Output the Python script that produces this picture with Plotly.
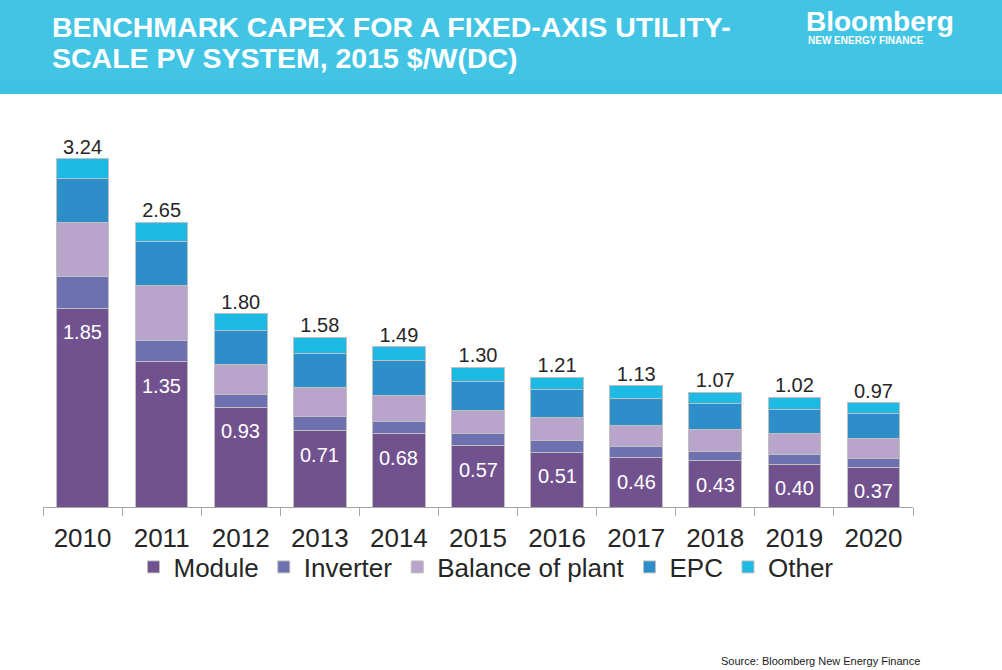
import plotly.graph_objects as go

years = ["2010", "2011", "2012", "2013", "2014", "2015", "2016", "2017", "2018", "2019", "2020"]
module = [1.85, 1.35, 0.93, 0.71, 0.68, 0.57, 0.51, 0.46, 0.43, 0.40, 0.37]
inverter = [0.30, 0.20, 0.12, 0.13, 0.12, 0.11, 0.11, 0.10, 0.09, 0.09, 0.08]
balance_of_plant = [0.50, 0.51, 0.28, 0.27, 0.24, 0.22, 0.21, 0.20, 0.20, 0.19, 0.19]
epc = [0.41, 0.41, 0.31, 0.32, 0.32, 0.27, 0.26, 0.25, 0.24, 0.23, 0.23]
other = [0.18, 0.18, 0.16, 0.15, 0.13, 0.13, 0.12, 0.12, 0.11, 0.11, 0.10]
totals = [3.24, 2.65, 1.80, 1.58, 1.49, 1.30, 1.21, 1.13, 1.07, 1.02, 0.97]

series = [
    ("Module", module, "#71528f"),
    ("Inverter", inverter, "#6d71b0"),
    ("Balance of plant", balance_of_plant, "#b9a5cc"),
    ("EPC", epc, "#2e8ec9"),
    ("Other", other, "#1dbbe4"),
]

W, H = 1002, 670
ML, MR, MT, MB = 43, 89, 131, 163
PW, PH = W - ML - MR, H - MT - MB


def px2x(px):
    return (px - ML) / PW


def py2y(py):
    return (H - MB - py) / PH


FONT = "Liberation Sans, Arial, sans-serif"
fig = go.Figure()

for name, vals, color in series:
    fig.add_trace(go.Bar(
        x=years, y=vals, name=name,
        marker=dict(color=color, line=dict(color="#bfbfbf", width=1)),
        hoverinfo="skip",
    ))

fig.add_trace(go.Scatter(
    x=years, y=totals, mode="text",
    text=[f"{v:.2f}" for v in totals],
    textposition="top center",
    textfont=dict(color="#262626", size=20, family=FONT),
    showlegend=False, hoverinfo="skip",
))

shapes = [
    dict(type="rect", xref="paper", yref="paper",
         x0=px2x(0), x1=px2x(W), y0=py2y(80), y1=py2y(0),
         fillcolor="#42c5e5", line=dict(width=0), layer="below"),
    dict(type="rect", xref="paper", yref="paper",
         x0=px2x(0), x1=px2x(W), y0=py2y(94), y1=py2y(80),
         fillcolor="#3bc1e2", line=dict(width=0), layer="below"),
]

annotations = [
    dict(text="<b>BENCHMARK CAPEX FOR A FIXED-AXIS UTILITY-</b>", xref="paper", yref="paper",
         x=px2x(50), y=py2y(27), xanchor="left", yanchor="middle", showarrow=False,
         font=dict(color="white", size=28.5, family=FONT)),
    dict(text="<b>SCALE PV SYSTEM, 2015 $/W(DC)</b>", xref="paper", yref="paper",
         x=px2x(50), y=py2y(58), xanchor="left", yanchor="middle", showarrow=False,
         font=dict(color="white", size=28.5, family=FONT)),
    dict(text="<b>Bloomberg</b>", xref="paper", yref="paper",
         x=px2x(804), y=py2y(22), xanchor="left", yanchor="middle", showarrow=False,
         font=dict(color="white", size=28, family=FONT)),
    dict(text="<b>NEW ENERGY FINANCE</b>", xref="paper", yref="paper",
         x=px2x(806), y=py2y(40.5), xanchor="left", yanchor="middle", showarrow=False,
         font=dict(color="white", size=10, family=FONT)),
    dict(text="Source: Bloomberg New Energy Finance", xref="paper", yref="paper",
         x=px2x(922), y=py2y(661), xanchor="right", yanchor="middle", showarrow=False,
         font=dict(color="#1a1a1a", size=11, family=FONT)),
]

# module value labels, inside the top of the module segment (x = category index)
for i, v in enumerate(module):
    annotations.append(dict(
        text=f"{v:.2f}", x=i, y=v, xref="x", yref="y",
        xanchor="center", yanchor="top", yshift=-11, showarrow=False,
        font=dict(color="white", size=20, family=FONT),
    ))

fig.update_layout(
    width=W, height=H,
    margin=dict(l=ML, r=MR, t=MT, b=MB, autoexpand=False),
    barmode="stack",
    bargap=0.335,
    plot_bgcolor="white", paper_bgcolor="white",
    font=dict(family=FONT, color="#262626"),
    shapes=shapes,
    annotations=annotations,
    showlegend=True,
    legend=dict(
        orientation="h", x=px2x(486), xanchor="center",
        y=py2y(567), yanchor="middle",
        font=dict(size=26, color="#262626", family=FONT),
        traceorder="normal", itemclick=False, itemdoubleclick=False,
        bgcolor="rgba(0,0,0,0)",
    ),
    xaxis=dict(
        type="category", range=[-0.5, len(years) - 0.5],
        showgrid=False, showline=True, linecolor="#a6a6a6", linewidth=1,
        ticks="outside", tickson="boundaries", ticklen=8, tickcolor="#a6a6a6",
        ticklabelstandoff=8, automargin=False,
        tickfont=dict(size=26, color="#262626", family=FONT), fixedrange=True,
    ),
    yaxis=dict(
        range=[0, 3.5], visible=False, showgrid=False, zeroline=False, fixedrange=True,
        automargin=False,
    ),
)

fig.write_html(
    "out.html",
    config={"displayModeBar": False},
    post_script="document.body.style.margin='0';document.body.style.padding='0';",
)
